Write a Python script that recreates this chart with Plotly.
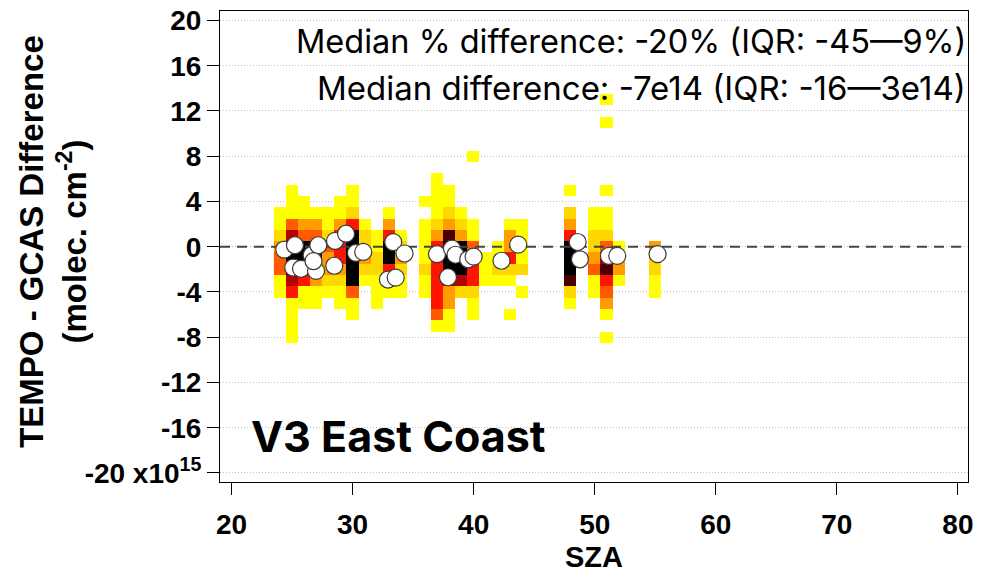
import plotly.graph_objects as go

# ---------------- data ----------------
# 2-D histogram: SZA column (deg), lowest difference bin (x1e15), colour level per bin going up (0 = empty)
heat_sza = [24, 25, 26, 27, 28, 29, 30, 31, 32, 33, 34, 36, 37, 38, 39, 40, 41, 42, 43, 44, 48, 50, 51, 52, 55]
heat_start = [-4, -8, -5, -5, -4, -5, -6, -3, -5, -4, -4, -4, -7, -7, -4, -6, -3, -3, -6, -4, -5, -4, -8, -3, -4]
heat_levels = [
    [1, 1, 4, 4, 3, 2, 1, 1],
    [1, 1, 1, 1, 5, 6, 8, 8, 7, 6, 4, 1, 1, 1],
    [1, 1, 5, 8, 8, 8, 4, 3, 1, 1],
    [1, 1, 3, 8, 8, 5, 4, 3, 1],
    [1, 2, 3, 3, 4, 2, 1, 1],
    [1, 1, 2, 3, 5, 5, 5, 3, 1, 1],
    [1, 1, 4, 8, 8, 8, 8, 8, 5, 2, 1, 1],
    [1, 2, 3, 2, 2, 1],
    [1, 1, 1, 2, 2, 1, 1],
    [1, 1, 5, 8, 8, 5, 3, 1],
    [1, 1, 2, 3, 2, 1],
    [1, 1, 2, 1, 1, 1, 1, 0, 1],
    [1, 4, 5, 5, 5, 5, 5, 5, 3, 2, 1, 1, 1, 1],
    [1, 1, 3, 3, 6, 8, 8, 8, 7, 3, 2, 1, 1],
    [2, 6, 8, 8, 8, 3, 2, 1],
    [1, 1, 2, 5, 5, 5, 4, 1, 1, 0, 0, 0, 0, 0, 1],
    [1, 1, 1],
    [1, 2, 1, 1],
    [1, 0, 0, 1, 2, 5, 3, 3, 1],
    [1, 0, 2, 1, 1, 1, 1],
    [1, 2, 7, 8, 8, 8, 5, 3, 2, 0, 1],
    [1, 1, 4, 3, 2, 2, 1, 1],
    [1, 0, 1, 3, 4, 5, 7, 6, 4, 2, 1, 1, 0, 1, 0, 0, 0, 0, 0, 1, 0, 1],
    [1, 3, 3, 1],
    [1, 1, 2, 2, 3],
]
level_colors = ["#FFFF00", "#FFD800", "#FF9C00", "#FF5A00", "#FF1400", "#B40000", "#4A0000", "#000000"]

# medians per flight (white circles)
pt_sza = [24.36, 25.24, 25.10, 25.74, 26.62, 27.17, 26.98, 26.77, 28.55, 29.46, 28.49, 30.28, 30.88,
          33.36, 34.29, 32.92, 33.56, 36.97, 38.21, 38.50, 39.55, 40.00, 37.88, 42.30, 43.68,
          48.59, 48.78, 51.17, 51.86, 55.19]
pt_diff = [-0.25, 0.13, -1.84, -1.95, -0.75, 0.13, -2.14, -1.28, 0.51, 1.15, -1.68, -0.55, -0.46,
           0.40, -0.60, -2.90, -2.73, -0.66, -0.16, -0.71, -1.11, -0.88, -2.70, -1.24, 0.18,
           0.42, -1.11, -0.81, -0.81, -0.66]

y_ticks = [-20, -16, -12, -8, -4, 0, 4, 8, 12, 16, 20]
y_ticktext = ["-20 x10<sup>15</sup>", "-16", "-12", "-8", "-4", "0", "4", "8", "12", "16", "20"]
x_ticks = [20, 30, 40, 50, 60, 70, 80]

stats_line1 = "Median % difference: -20% (IQR: -45\u20149%)"
stats_line2 = "Median difference: -7e14 (IQR: -16\u20143e14)"
region_label = "V3 East Coast"

# ---------------- build grid ----------------
xs = list(range(min(heat_sza), max(heat_sza) + 1))
ymin = min(heat_start)
ymax = max(s + len(l) - 1 for s, l in zip(heat_start, heat_levels))
ys = list(range(ymin, ymax + 1))
z = [[None for _ in xs] for _ in ys]
for sza, start, levs in zip(heat_sza, heat_start, heat_levels):
    for k, lv in enumerate(levs):
        if lv:
            z[start + k - ymin][sza - xs[0]] = lv

n = len(level_colors)
cscale = []
for i, c in enumerate(level_colors):
    cscale.append([i / n, c])
    cscale.append([(i + 1) / n, c])

XR = [19.05, 80.83]
YR = [-20.8, 20.84]

fig = go.Figure()
fig.add_trace(go.Heatmap(x=xs, y=ys, z=z, colorscale=cscale, zmin=0.5, zmax=n + 0.5,
                         showscale=False, hoverinfo="skip"))
fig.add_trace(go.Scatter(x=XR, y=[0, 0], mode="lines",
                         line=dict(color="#444444", width=2, dash="10px,7px"),
                         showlegend=False, hoverinfo="skip"))
fig.add_trace(go.Scatter(x=pt_sza, y=pt_diff, mode="markers",
                         marker=dict(size=17, color="white", line=dict(color="#3a3a3a", width=1.2)),
                         showlegend=False))

bold_family = "Liberation Sans, Arial"
tick_font = dict(family=bold_family, size=28, color="black", weight="bold")

fig.update_layout(
    width=982, height=576,
    margin=dict(l=220, r=14, t=11, b=94),
    plot_bgcolor="white", paper_bgcolor="white",
    showlegend=False,
    xaxis=dict(range=XR, tickvals=x_ticks, ticks="outside", ticklen=12, tickcolor="black",
               showline=True, mirror=True, linecolor="black", linewidth=1, automargin=False,
               showgrid=False, zeroline=False, tickfont=tick_font, ticklabelstandoff=5,
               title=dict(text="SZA", font=dict(family=bold_family, size=29, color="black", weight="bold"),
                          standoff=8)),
    yaxis=dict(range=YR, tickvals=y_ticks, ticktext=y_ticktext, ticks="outside", ticklen=12,
               tickcolor="black", showline=True, mirror=True, linecolor="black", linewidth=1,
               automargin=False,
               showgrid=True, gridcolor="#c4c4c4", griddash="1px,2px", gridwidth=1,
               zeroline=False, tickfont=tick_font),
    annotations=[
        dict(text="TEMPO - GCAS Difference<br>(molec. cm<sup>-2</sup>)", xref="paper", yref="paper",
             x=-0.2233, y=0.512, textangle=-90, showarrow=False, xanchor="center", yanchor="middle",
             font=dict(family=bold_family, size=33, color="black", weight="bold")),
        dict(text=stats_line1, xref="paper", yref="paper", x=1.0, y=(482 - 42) / 471,
             xanchor="right", yanchor="middle", showarrow=False,
             font=dict(family="Inter, Open Sans", size=32.5, color="black")),
        dict(text=stats_line2, xref="paper", yref="paper", x=1.0, y=(482 - 88) / 471,
             xanchor="right", yanchor="middle", showarrow=False,
             font=dict(family="Inter, Open Sans", size=33, color="black")),
        dict(text=region_label, xref="paper", yref="paper", x=(249 - 220) / 748, y=(482 - 436) / 471,
             xanchor="left", yanchor="middle", showarrow=False,
             font=dict(family="Inter, Open Sans", size=43, color="black", weight="bold")),
    ],
)

fig.write_html("out.html", config={"displayModeBar": False},
               post_script="document.body.style.margin='0';")
